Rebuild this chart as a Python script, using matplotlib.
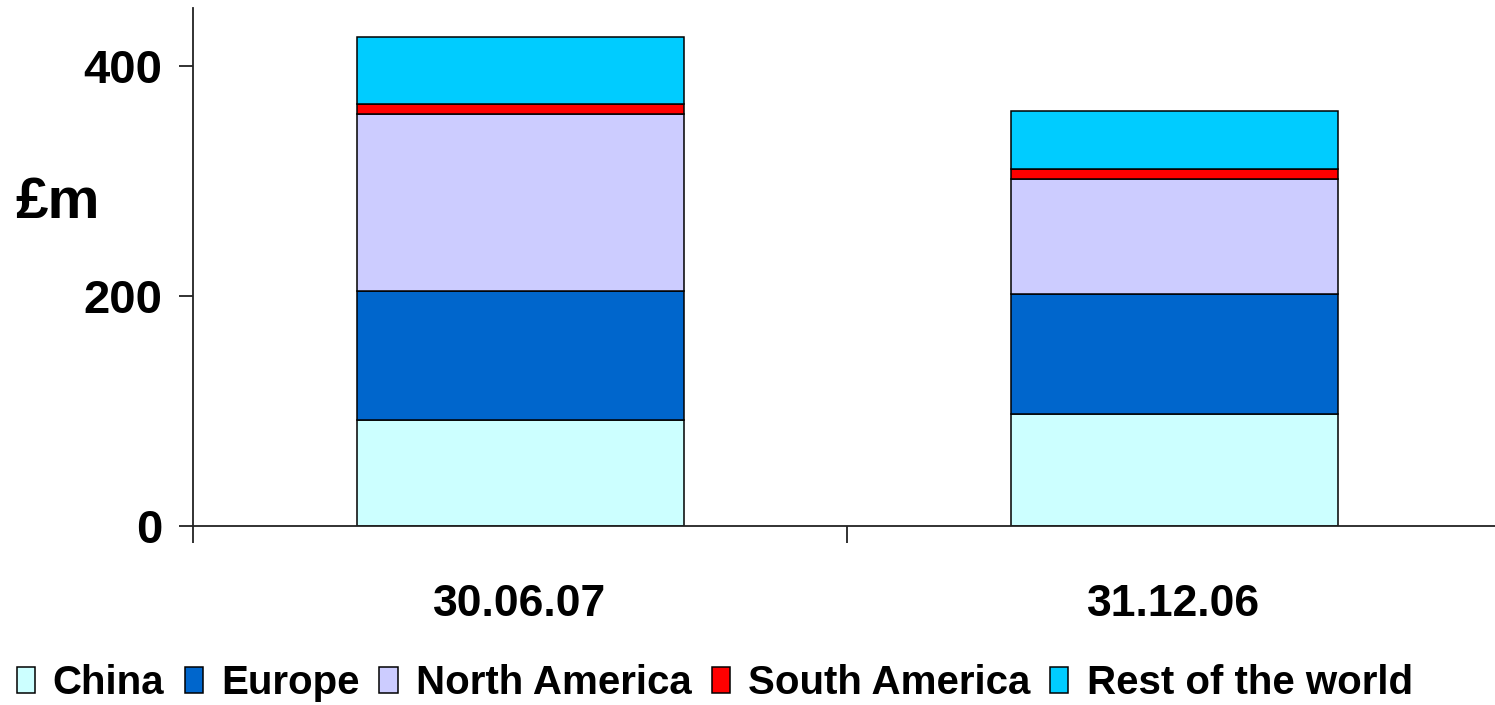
import matplotlib
matplotlib.use("Agg")
import matplotlib.pyplot as plt
import numpy as np

# Segment values in £m
dates = ["30.06.07", "31.12.06"]
regions = ["China", "Europe", "North America", "South America", "Rest of the world"]
china = [92.0, 97.5]
europe = [112.5, 104.0]
north_america = [153.0, 100.0]
south_america = [8.7, 8.7]
rest_of_world = [59.0, 50.0]

colors = ["#CCFFFF", "#0066CC", "#CCCCFF", "#FF0000", "#00CCFF"]
series = [china, europe, north_america, south_america, rest_of_world]

plt.rcParams["font.family"] = ["Liberation Sans", "DejaVu Sans"]
plt.rcParams["font.weight"] = "bold"

fig = plt.figure(figsize=(14.95, 7.05), dpi=100)
ax = fig.add_axes([193 / 1495, 1 - 526 / 705, (1501 - 193) / 1495, (526 - 8) / 705])

x = np.arange(len(dates))
bottom = np.zeros(len(dates))
for name, vals, col in zip(regions, series, colors):
    vals = np.array(vals)
    ax.bar(x, vals, width=0.5, bottom=bottom, color=col, edgecolor="black",
           linewidth=1.1, label=name)
    bottom += vals

ax.set_xlim(-0.5, 1.5)
ax.set_ylim(0, 450)

for s in ["top", "right"]:
    ax.spines[s].set_visible(False)
for s in ["left", "bottom"]:
    ax.spines[s].set_linewidth(1.3)
    ax.spines[s].set_color("#222222")

ax.set_yticks([0, 200, 400])
ax.set_yticklabels(["0", "200", "400"], fontsize=34, fontweight="bold")
ax.tick_params(axis="y", direction="out", length=10, width=1.3, pad=12, color="#222222")

ax.set_xticks(x)
ax.set_xticklabels(dates, fontsize=32, fontweight="bold")
ax.tick_params(axis="x", which="major", length=0, pad=42)
ax.set_xticks([-0.5, 0.5, 1.5], minor=True)
ax.tick_params(axis="x", which="minor", direction="out", length=12.5, width=1.3, color="#222222")

fig.text(15 / 1495, 1 - 203 / 705, "£m", fontsize=42, fontweight="bold",
         ha="left", va="center")

fig.legend(loc="center", bbox_to_anchor=(0.478, 1 - 683 / 705), ncol=5,
           frameon=False, handlelength=0.45, handleheight=0.6,
           handletextpad=0.45, columnspacing=0.5, borderpad=0,
           prop={"weight": "bold", "size": 29})

fig.savefig("out.png", dpi=100)
